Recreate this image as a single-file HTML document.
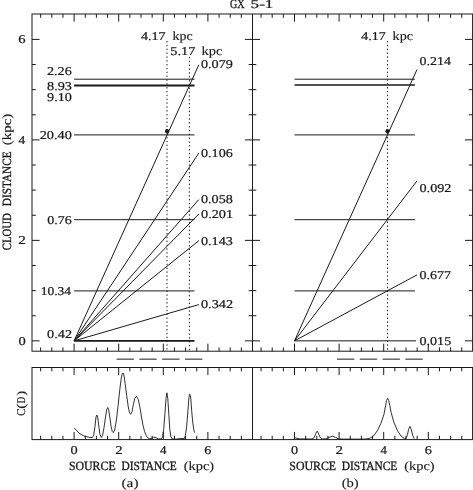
<!DOCTYPE html>
<html lang="en"><head><meta charset="utf-8"><title>GX 5-1</title>
<style>
html,body{margin:0;padding:0;background:#fff;}
body{width:473px;height:490px;overflow:hidden;font-family:"Liberation Serif", "DejaVu Serif", serif;}
svg{display:block;}
text{text-rendering:geometricPrecision;}
</style></head><body>
<svg width="473" height="490" viewBox="0 0 473 490">
<rect x="0" y="0" width="473" height="490" fill="#fff"/>
<g stroke="#1a1a1a" fill="none" stroke-linecap="butt">
<rect x="32.0" y="14.0" width="440.6" height="337.2" stroke-width="1.0"/>
<rect x="32.0" y="367.5" width="440.6" height="72.1" stroke-width="1.0"/>
<line x1="252.50" y1="14.00" x2="252.50" y2="351.25" stroke-width="1.0"/>
<line x1="252.50" y1="367.50" x2="252.50" y2="439.55" stroke-width="1.0"/>
<line x1="40.65" y1="14.00" x2="40.65" y2="17.80" stroke-width="1.0"/>
<line x1="40.65" y1="351.25" x2="40.65" y2="347.45" stroke-width="1.0"/>
<line x1="40.65" y1="367.50" x2="40.65" y2="371.30" stroke-width="1.0"/>
<line x1="40.65" y1="439.55" x2="40.65" y2="435.75" stroke-width="1.0"/>
<line x1="51.80" y1="14.00" x2="51.80" y2="17.80" stroke-width="1.0"/>
<line x1="51.80" y1="351.25" x2="51.80" y2="347.45" stroke-width="1.0"/>
<line x1="51.80" y1="367.50" x2="51.80" y2="371.30" stroke-width="1.0"/>
<line x1="51.80" y1="439.55" x2="51.80" y2="435.75" stroke-width="1.0"/>
<line x1="62.95" y1="14.00" x2="62.95" y2="17.80" stroke-width="1.0"/>
<line x1="62.95" y1="351.25" x2="62.95" y2="347.45" stroke-width="1.0"/>
<line x1="62.95" y1="367.50" x2="62.95" y2="371.30" stroke-width="1.0"/>
<line x1="62.95" y1="439.55" x2="62.95" y2="435.75" stroke-width="1.0"/>
<line x1="74.10" y1="14.00" x2="74.10" y2="21.60" stroke-width="1.0"/>
<line x1="74.10" y1="351.25" x2="74.10" y2="343.65" stroke-width="1.0"/>
<line x1="74.10" y1="367.50" x2="74.10" y2="375.10" stroke-width="1.0"/>
<line x1="74.10" y1="439.55" x2="74.10" y2="431.95" stroke-width="1.0"/>
<line x1="85.25" y1="14.00" x2="85.25" y2="17.80" stroke-width="1.0"/>
<line x1="85.25" y1="351.25" x2="85.25" y2="347.45" stroke-width="1.0"/>
<line x1="85.25" y1="367.50" x2="85.25" y2="371.30" stroke-width="1.0"/>
<line x1="85.25" y1="439.55" x2="85.25" y2="435.75" stroke-width="1.0"/>
<line x1="96.40" y1="14.00" x2="96.40" y2="17.80" stroke-width="1.0"/>
<line x1="96.40" y1="351.25" x2="96.40" y2="347.45" stroke-width="1.0"/>
<line x1="96.40" y1="367.50" x2="96.40" y2="371.30" stroke-width="1.0"/>
<line x1="96.40" y1="439.55" x2="96.40" y2="435.75" stroke-width="1.0"/>
<line x1="107.55" y1="14.00" x2="107.55" y2="17.80" stroke-width="1.0"/>
<line x1="107.55" y1="351.25" x2="107.55" y2="347.45" stroke-width="1.0"/>
<line x1="107.55" y1="367.50" x2="107.55" y2="371.30" stroke-width="1.0"/>
<line x1="107.55" y1="439.55" x2="107.55" y2="435.75" stroke-width="1.0"/>
<line x1="118.70" y1="14.00" x2="118.70" y2="21.60" stroke-width="1.0"/>
<line x1="118.70" y1="351.25" x2="118.70" y2="343.65" stroke-width="1.0"/>
<line x1="118.70" y1="367.50" x2="118.70" y2="375.10" stroke-width="1.0"/>
<line x1="118.70" y1="439.55" x2="118.70" y2="431.95" stroke-width="1.0"/>
<line x1="129.85" y1="14.00" x2="129.85" y2="17.80" stroke-width="1.0"/>
<line x1="129.85" y1="351.25" x2="129.85" y2="347.45" stroke-width="1.0"/>
<line x1="129.85" y1="367.50" x2="129.85" y2="371.30" stroke-width="1.0"/>
<line x1="129.85" y1="439.55" x2="129.85" y2="435.75" stroke-width="1.0"/>
<line x1="141.00" y1="14.00" x2="141.00" y2="17.80" stroke-width="1.0"/>
<line x1="141.00" y1="351.25" x2="141.00" y2="347.45" stroke-width="1.0"/>
<line x1="141.00" y1="367.50" x2="141.00" y2="371.30" stroke-width="1.0"/>
<line x1="141.00" y1="439.55" x2="141.00" y2="435.75" stroke-width="1.0"/>
<line x1="152.15" y1="14.00" x2="152.15" y2="17.80" stroke-width="1.0"/>
<line x1="152.15" y1="351.25" x2="152.15" y2="347.45" stroke-width="1.0"/>
<line x1="152.15" y1="367.50" x2="152.15" y2="371.30" stroke-width="1.0"/>
<line x1="152.15" y1="439.55" x2="152.15" y2="435.75" stroke-width="1.0"/>
<line x1="163.30" y1="14.00" x2="163.30" y2="21.60" stroke-width="1.0"/>
<line x1="163.30" y1="351.25" x2="163.30" y2="343.65" stroke-width="1.0"/>
<line x1="163.30" y1="367.50" x2="163.30" y2="375.10" stroke-width="1.0"/>
<line x1="163.30" y1="439.55" x2="163.30" y2="431.95" stroke-width="1.0"/>
<line x1="174.45" y1="14.00" x2="174.45" y2="17.80" stroke-width="1.0"/>
<line x1="174.45" y1="351.25" x2="174.45" y2="347.45" stroke-width="1.0"/>
<line x1="174.45" y1="367.50" x2="174.45" y2="371.30" stroke-width="1.0"/>
<line x1="174.45" y1="439.55" x2="174.45" y2="435.75" stroke-width="1.0"/>
<line x1="185.60" y1="14.00" x2="185.60" y2="17.80" stroke-width="1.0"/>
<line x1="185.60" y1="351.25" x2="185.60" y2="347.45" stroke-width="1.0"/>
<line x1="185.60" y1="367.50" x2="185.60" y2="371.30" stroke-width="1.0"/>
<line x1="185.60" y1="439.55" x2="185.60" y2="435.75" stroke-width="1.0"/>
<line x1="196.75" y1="14.00" x2="196.75" y2="17.80" stroke-width="1.0"/>
<line x1="196.75" y1="351.25" x2="196.75" y2="347.45" stroke-width="1.0"/>
<line x1="196.75" y1="367.50" x2="196.75" y2="371.30" stroke-width="1.0"/>
<line x1="196.75" y1="439.55" x2="196.75" y2="435.75" stroke-width="1.0"/>
<line x1="207.90" y1="14.00" x2="207.90" y2="21.60" stroke-width="1.0"/>
<line x1="207.90" y1="351.25" x2="207.90" y2="343.65" stroke-width="1.0"/>
<line x1="207.90" y1="367.50" x2="207.90" y2="375.10" stroke-width="1.0"/>
<line x1="207.90" y1="439.55" x2="207.90" y2="431.95" stroke-width="1.0"/>
<line x1="219.05" y1="14.00" x2="219.05" y2="17.80" stroke-width="1.0"/>
<line x1="219.05" y1="351.25" x2="219.05" y2="347.45" stroke-width="1.0"/>
<line x1="219.05" y1="367.50" x2="219.05" y2="371.30" stroke-width="1.0"/>
<line x1="219.05" y1="439.55" x2="219.05" y2="435.75" stroke-width="1.0"/>
<line x1="230.20" y1="14.00" x2="230.20" y2="17.80" stroke-width="1.0"/>
<line x1="230.20" y1="351.25" x2="230.20" y2="347.45" stroke-width="1.0"/>
<line x1="230.20" y1="367.50" x2="230.20" y2="371.30" stroke-width="1.0"/>
<line x1="230.20" y1="439.55" x2="230.20" y2="435.75" stroke-width="1.0"/>
<line x1="241.35" y1="14.00" x2="241.35" y2="17.80" stroke-width="1.0"/>
<line x1="241.35" y1="351.25" x2="241.35" y2="347.45" stroke-width="1.0"/>
<line x1="241.35" y1="367.50" x2="241.35" y2="371.30" stroke-width="1.0"/>
<line x1="241.35" y1="439.55" x2="241.35" y2="435.75" stroke-width="1.0"/>
<line x1="261.05" y1="14.00" x2="261.05" y2="17.80" stroke-width="1.0"/>
<line x1="261.05" y1="351.25" x2="261.05" y2="347.45" stroke-width="1.0"/>
<line x1="261.05" y1="367.50" x2="261.05" y2="371.30" stroke-width="1.0"/>
<line x1="261.05" y1="439.55" x2="261.05" y2="435.75" stroke-width="1.0"/>
<line x1="272.20" y1="14.00" x2="272.20" y2="17.80" stroke-width="1.0"/>
<line x1="272.20" y1="351.25" x2="272.20" y2="347.45" stroke-width="1.0"/>
<line x1="272.20" y1="367.50" x2="272.20" y2="371.30" stroke-width="1.0"/>
<line x1="272.20" y1="439.55" x2="272.20" y2="435.75" stroke-width="1.0"/>
<line x1="283.35" y1="14.00" x2="283.35" y2="17.80" stroke-width="1.0"/>
<line x1="283.35" y1="351.25" x2="283.35" y2="347.45" stroke-width="1.0"/>
<line x1="283.35" y1="367.50" x2="283.35" y2="371.30" stroke-width="1.0"/>
<line x1="283.35" y1="439.55" x2="283.35" y2="435.75" stroke-width="1.0"/>
<line x1="294.50" y1="14.00" x2="294.50" y2="21.60" stroke-width="1.0"/>
<line x1="294.50" y1="351.25" x2="294.50" y2="343.65" stroke-width="1.0"/>
<line x1="294.50" y1="367.50" x2="294.50" y2="375.10" stroke-width="1.0"/>
<line x1="294.50" y1="439.55" x2="294.50" y2="431.95" stroke-width="1.0"/>
<line x1="305.65" y1="14.00" x2="305.65" y2="17.80" stroke-width="1.0"/>
<line x1="305.65" y1="351.25" x2="305.65" y2="347.45" stroke-width="1.0"/>
<line x1="305.65" y1="367.50" x2="305.65" y2="371.30" stroke-width="1.0"/>
<line x1="305.65" y1="439.55" x2="305.65" y2="435.75" stroke-width="1.0"/>
<line x1="316.80" y1="14.00" x2="316.80" y2="17.80" stroke-width="1.0"/>
<line x1="316.80" y1="351.25" x2="316.80" y2="347.45" stroke-width="1.0"/>
<line x1="316.80" y1="367.50" x2="316.80" y2="371.30" stroke-width="1.0"/>
<line x1="316.80" y1="439.55" x2="316.80" y2="435.75" stroke-width="1.0"/>
<line x1="327.95" y1="14.00" x2="327.95" y2="17.80" stroke-width="1.0"/>
<line x1="327.95" y1="351.25" x2="327.95" y2="347.45" stroke-width="1.0"/>
<line x1="327.95" y1="367.50" x2="327.95" y2="371.30" stroke-width="1.0"/>
<line x1="327.95" y1="439.55" x2="327.95" y2="435.75" stroke-width="1.0"/>
<line x1="339.10" y1="14.00" x2="339.10" y2="21.60" stroke-width="1.0"/>
<line x1="339.10" y1="351.25" x2="339.10" y2="343.65" stroke-width="1.0"/>
<line x1="339.10" y1="367.50" x2="339.10" y2="375.10" stroke-width="1.0"/>
<line x1="339.10" y1="439.55" x2="339.10" y2="431.95" stroke-width="1.0"/>
<line x1="350.25" y1="14.00" x2="350.25" y2="17.80" stroke-width="1.0"/>
<line x1="350.25" y1="351.25" x2="350.25" y2="347.45" stroke-width="1.0"/>
<line x1="350.25" y1="367.50" x2="350.25" y2="371.30" stroke-width="1.0"/>
<line x1="350.25" y1="439.55" x2="350.25" y2="435.75" stroke-width="1.0"/>
<line x1="361.40" y1="14.00" x2="361.40" y2="17.80" stroke-width="1.0"/>
<line x1="361.40" y1="351.25" x2="361.40" y2="347.45" stroke-width="1.0"/>
<line x1="361.40" y1="367.50" x2="361.40" y2="371.30" stroke-width="1.0"/>
<line x1="361.40" y1="439.55" x2="361.40" y2="435.75" stroke-width="1.0"/>
<line x1="372.55" y1="14.00" x2="372.55" y2="17.80" stroke-width="1.0"/>
<line x1="372.55" y1="351.25" x2="372.55" y2="347.45" stroke-width="1.0"/>
<line x1="372.55" y1="367.50" x2="372.55" y2="371.30" stroke-width="1.0"/>
<line x1="372.55" y1="439.55" x2="372.55" y2="435.75" stroke-width="1.0"/>
<line x1="383.70" y1="14.00" x2="383.70" y2="21.60" stroke-width="1.0"/>
<line x1="383.70" y1="351.25" x2="383.70" y2="343.65" stroke-width="1.0"/>
<line x1="383.70" y1="367.50" x2="383.70" y2="375.10" stroke-width="1.0"/>
<line x1="383.70" y1="439.55" x2="383.70" y2="431.95" stroke-width="1.0"/>
<line x1="394.85" y1="14.00" x2="394.85" y2="17.80" stroke-width="1.0"/>
<line x1="394.85" y1="351.25" x2="394.85" y2="347.45" stroke-width="1.0"/>
<line x1="394.85" y1="367.50" x2="394.85" y2="371.30" stroke-width="1.0"/>
<line x1="394.85" y1="439.55" x2="394.85" y2="435.75" stroke-width="1.0"/>
<line x1="406.00" y1="14.00" x2="406.00" y2="17.80" stroke-width="1.0"/>
<line x1="406.00" y1="351.25" x2="406.00" y2="347.45" stroke-width="1.0"/>
<line x1="406.00" y1="367.50" x2="406.00" y2="371.30" stroke-width="1.0"/>
<line x1="406.00" y1="439.55" x2="406.00" y2="435.75" stroke-width="1.0"/>
<line x1="417.15" y1="14.00" x2="417.15" y2="17.80" stroke-width="1.0"/>
<line x1="417.15" y1="351.25" x2="417.15" y2="347.45" stroke-width="1.0"/>
<line x1="417.15" y1="367.50" x2="417.15" y2="371.30" stroke-width="1.0"/>
<line x1="417.15" y1="439.55" x2="417.15" y2="435.75" stroke-width="1.0"/>
<line x1="428.30" y1="14.00" x2="428.30" y2="21.60" stroke-width="1.0"/>
<line x1="428.30" y1="351.25" x2="428.30" y2="343.65" stroke-width="1.0"/>
<line x1="428.30" y1="367.50" x2="428.30" y2="375.10" stroke-width="1.0"/>
<line x1="428.30" y1="439.55" x2="428.30" y2="431.95" stroke-width="1.0"/>
<line x1="439.45" y1="14.00" x2="439.45" y2="17.80" stroke-width="1.0"/>
<line x1="439.45" y1="351.25" x2="439.45" y2="347.45" stroke-width="1.0"/>
<line x1="439.45" y1="367.50" x2="439.45" y2="371.30" stroke-width="1.0"/>
<line x1="439.45" y1="439.55" x2="439.45" y2="435.75" stroke-width="1.0"/>
<line x1="450.60" y1="14.00" x2="450.60" y2="17.80" stroke-width="1.0"/>
<line x1="450.60" y1="351.25" x2="450.60" y2="347.45" stroke-width="1.0"/>
<line x1="450.60" y1="367.50" x2="450.60" y2="371.30" stroke-width="1.0"/>
<line x1="450.60" y1="439.55" x2="450.60" y2="435.75" stroke-width="1.0"/>
<line x1="461.75" y1="14.00" x2="461.75" y2="17.80" stroke-width="1.0"/>
<line x1="461.75" y1="351.25" x2="461.75" y2="347.45" stroke-width="1.0"/>
<line x1="461.75" y1="367.50" x2="461.75" y2="371.30" stroke-width="1.0"/>
<line x1="461.75" y1="439.55" x2="461.75" y2="435.75" stroke-width="1.0"/>
<line x1="32.00" y1="340.85" x2="39.60" y2="340.85" stroke-width="1.0"/>
<line x1="244.90" y1="340.85" x2="260.10" y2="340.85" stroke-width="1.0"/>
<line x1="465.00" y1="340.85" x2="472.60" y2="340.85" stroke-width="1.0"/>
<line x1="32.00" y1="315.73" x2="35.80" y2="315.73" stroke-width="1.0"/>
<line x1="248.70" y1="315.73" x2="256.30" y2="315.73" stroke-width="1.0"/>
<line x1="468.80" y1="315.73" x2="472.60" y2="315.73" stroke-width="1.0"/>
<line x1="32.00" y1="290.61" x2="35.80" y2="290.61" stroke-width="1.0"/>
<line x1="248.70" y1="290.61" x2="256.30" y2="290.61" stroke-width="1.0"/>
<line x1="468.80" y1="290.61" x2="472.60" y2="290.61" stroke-width="1.0"/>
<line x1="32.00" y1="265.49" x2="35.80" y2="265.49" stroke-width="1.0"/>
<line x1="248.70" y1="265.49" x2="256.30" y2="265.49" stroke-width="1.0"/>
<line x1="468.80" y1="265.49" x2="472.60" y2="265.49" stroke-width="1.0"/>
<line x1="32.00" y1="240.37" x2="39.60" y2="240.37" stroke-width="1.0"/>
<line x1="244.90" y1="240.37" x2="260.10" y2="240.37" stroke-width="1.0"/>
<line x1="465.00" y1="240.37" x2="472.60" y2="240.37" stroke-width="1.0"/>
<line x1="32.00" y1="215.25" x2="35.80" y2="215.25" stroke-width="1.0"/>
<line x1="248.70" y1="215.25" x2="256.30" y2="215.25" stroke-width="1.0"/>
<line x1="468.80" y1="215.25" x2="472.60" y2="215.25" stroke-width="1.0"/>
<line x1="32.00" y1="190.13" x2="35.80" y2="190.13" stroke-width="1.0"/>
<line x1="248.70" y1="190.13" x2="256.30" y2="190.13" stroke-width="1.0"/>
<line x1="468.80" y1="190.13" x2="472.60" y2="190.13" stroke-width="1.0"/>
<line x1="32.00" y1="165.01" x2="35.80" y2="165.01" stroke-width="1.0"/>
<line x1="248.70" y1="165.01" x2="256.30" y2="165.01" stroke-width="1.0"/>
<line x1="468.80" y1="165.01" x2="472.60" y2="165.01" stroke-width="1.0"/>
<line x1="32.00" y1="139.89" x2="39.60" y2="139.89" stroke-width="1.0"/>
<line x1="244.90" y1="139.89" x2="260.10" y2="139.89" stroke-width="1.0"/>
<line x1="465.00" y1="139.89" x2="472.60" y2="139.89" stroke-width="1.0"/>
<line x1="32.00" y1="114.77" x2="35.80" y2="114.77" stroke-width="1.0"/>
<line x1="248.70" y1="114.77" x2="256.30" y2="114.77" stroke-width="1.0"/>
<line x1="468.80" y1="114.77" x2="472.60" y2="114.77" stroke-width="1.0"/>
<line x1="32.00" y1="89.65" x2="35.80" y2="89.65" stroke-width="1.0"/>
<line x1="248.70" y1="89.65" x2="256.30" y2="89.65" stroke-width="1.0"/>
<line x1="468.80" y1="89.65" x2="472.60" y2="89.65" stroke-width="1.0"/>
<line x1="32.00" y1="64.53" x2="35.80" y2="64.53" stroke-width="1.0"/>
<line x1="248.70" y1="64.53" x2="256.30" y2="64.53" stroke-width="1.0"/>
<line x1="468.80" y1="64.53" x2="472.60" y2="64.53" stroke-width="1.0"/>
<line x1="32.00" y1="39.41" x2="39.60" y2="39.41" stroke-width="1.0"/>
<line x1="244.90" y1="39.41" x2="260.10" y2="39.41" stroke-width="1.0"/>
<line x1="465.00" y1="39.41" x2="472.60" y2="39.41" stroke-width="1.0"/>
<line x1="74.10" y1="79.20" x2="194.52" y2="79.20" stroke-width="1.0"/>
<line x1="74.10" y1="134.90" x2="194.52" y2="134.90" stroke-width="1.0"/>
<line x1="74.10" y1="219.70" x2="194.52" y2="219.70" stroke-width="1.0"/>
<line x1="74.10" y1="290.90" x2="194.52" y2="290.90" stroke-width="1.0"/>
<line x1="294.50" y1="79.20" x2="414.92" y2="79.20" stroke-width="1.0"/>
<line x1="294.50" y1="134.90" x2="414.92" y2="134.90" stroke-width="1.0"/>
<line x1="294.50" y1="219.70" x2="414.92" y2="219.70" stroke-width="1.0"/>
<line x1="294.50" y1="290.90" x2="414.92" y2="290.90" stroke-width="1.0"/>
<line x1="74.10" y1="85.40" x2="194.52" y2="85.40" stroke-width="2.0"/>
<line x1="294.50" y1="84.95" x2="414.92" y2="84.95" stroke-width="1.35"/>
<line x1="74.10" y1="340.85" x2="194.52" y2="340.85" stroke-width="1.8"/>
<line x1="294.50" y1="340.85" x2="416.04" y2="340.85" stroke-width="1.0"/>
<line x1="74.10" y1="340.85" x2="198.80" y2="64.80" stroke-width="1.0"/>
<line x1="74.10" y1="340.85" x2="198.80" y2="153.10" stroke-width="1.0"/>
<line x1="74.10" y1="340.85" x2="198.80" y2="199.60" stroke-width="1.0"/>
<line x1="74.10" y1="340.85" x2="198.80" y2="214.00" stroke-width="1.0"/>
<line x1="74.10" y1="340.85" x2="198.80" y2="240.70" stroke-width="1.0"/>
<line x1="74.10" y1="340.85" x2="198.80" y2="304.60" stroke-width="1.0"/>
<line x1="294.50" y1="340.85" x2="417.00" y2="69.50" stroke-width="1.0"/>
<line x1="294.50" y1="340.85" x2="417.00" y2="180.90" stroke-width="1.0"/>
<line x1="294.50" y1="340.85" x2="417.00" y2="274.90" stroke-width="1.0"/>
<line x1="167.00" y1="41.00" x2="167.00" y2="351.25" stroke-width="1.0" stroke-dasharray="1.4 2.44"/>
<line x1="189.40" y1="56.90" x2="189.40" y2="351.25" stroke-width="1.0" stroke-dasharray="1.4 2.44"/>
<line x1="387.50" y1="41.00" x2="387.50" y2="351.25" stroke-width="1.0" stroke-dasharray="1.4 2.44"/>
<line x1="116.60" y1="359.15" x2="133.90" y2="359.15" stroke-width="1.0"/>
<line x1="139.40" y1="359.15" x2="156.70" y2="359.15" stroke-width="1.0"/>
<line x1="162.20" y1="359.15" x2="179.50" y2="359.15" stroke-width="1.0"/>
<line x1="185.00" y1="359.15" x2="202.30" y2="359.15" stroke-width="1.0"/>
<line x1="337.00" y1="359.15" x2="354.30" y2="359.15" stroke-width="1.0"/>
<line x1="359.80" y1="359.15" x2="377.10" y2="359.15" stroke-width="1.0"/>
<line x1="382.60" y1="359.15" x2="399.90" y2="359.15" stroke-width="1.0"/>
<line x1="405.40" y1="359.15" x2="422.70" y2="359.15" stroke-width="1.0"/>
<path d="M74.3,428.0 L76.9,430.8 L80.0,433.9 L83.8,435.9 L88.4,437.2 L92.2,437.7 L93.7,435.4 L95.0,426.2 L96.0,417.0 L96.8,415.0 L97.7,417.0 L98.8,426.2 L100.0,434.6 L101.4,437.4 L102.6,435.4 L104.0,427.7 L105.5,417.0 L106.8,409.4 L107.7,407.5 L108.6,409.4 L109.8,417.0 L111.0,426.2 L112.3,431.6 L113.3,432.6 L114.7,430.0 L116.4,420.0 L118.2,404.8 L119.8,389.4 L121.3,378.0 L122.2,374.1 L123.0,373.0 L123.9,374.9 L125.1,383.3 L126.7,395.6 L128.2,406.3 L129.4,412.4 L130.7,414.3 L132.0,411.7 L133.3,404.8 L134.7,398.6 L136.4,396.3 L138.3,399.4 L140.0,407.8 L141.5,417.0 L143.0,425.4 L144.6,431.6 L146.1,435.4 L147.6,437.7 L149.9,438.9 L152.2,438.1 L153.7,437.2 L156.0,437.7 L158.3,438.9 L161.4,438.9 L162.6,436.9 L163.7,429.3 L164.9,413.9 L166.0,398.6 L166.9,392.8 L167.8,398.6 L168.8,413.9 L169.8,429.3 L170.9,436.9 L172.1,438.9 L175.9,439.2 L180.5,438.5 L184.4,438.5 L185.4,435.4 L186.7,426.2 L187.9,410.9 L189.0,397.1 L189.7,394.3 L190.7,397.1 L191.7,410.9 L192.8,423.1 L194.0,430.8 L194.5,432.6" stroke-width="0.9" stroke-linejoin="round"/>
<path d="M294.5,437.6 L297.0,438.4 L300.0,438.9 L312.0,439.0 L314.0,437.8 L315.5,434.5 L316.5,432.0 L317.2,431.2 L317.9,432.0 L318.9,434.5 L320.4,437.8 L322.4,439.0 L326.0,438.8 L329.0,437.4 L332.4,436.2 L335.5,437.4 L338.5,438.8 L342.0,439.1 L362.0,439.1 L366.1,439.0 L369.8,438.3 L373.5,436.0 L377.2,430.9 L380.9,423.5 L383.9,414.6 L385.6,405.7 L386.5,400.5 L387.6,398.3 L388.7,400.5 L389.8,405.7 L391.3,413.1 L393.8,422.0 L397.2,430.1 L400.9,436.0 L404.6,438.7 L406.0,438.3 L407.5,434.6 L408.6,429.4 L409.9,426.4 L411.2,429.4 L412.7,435.3 L414.2,438.6" stroke-width="0.9" stroke-linejoin="round"/>
</g>
<circle cx="167.1" cy="131.2" r="2.1" fill="#1a1a1a"/>
<circle cx="387.5" cy="131.2" r="2.1" fill="#1a1a1a"/>
<g fill="#1a1a1a" stroke="#1a1a1a" stroke-width="0.22" font-family='"Liberation Serif", "DejaVu Serif", serif' font-size="12.0" id="txt">
<text id="t_gx" x="230.09" y="8.4" textLength="14.44" lengthAdjust="spacingAndGlyphs" font-size="12.6" stroke-width="0.34">GX</text>
<text id="t_51" x="250.58" y="8.4" textLength="22.80" lengthAdjust="spacingAndGlyphs">5-1</text>
<text id="a417n" x="140.93" y="39.6" textLength="24.78" lengthAdjust="spacingAndGlyphs">4.17</text>
<text id="a417k" x="172.63" y="39.6" textLength="20.05" lengthAdjust="spacingAndGlyphs" font-size="12.6" stroke-width="0.12">kpc</text>
<text id="a517n" x="170.22" y="54.5" textLength="25.11" lengthAdjust="spacingAndGlyphs">5.17</text>
<text id="a517k" x="201.55" y="54.5" textLength="20.91" lengthAdjust="spacingAndGlyphs" font-size="12.6" stroke-width="0.12">kpc</text>
<text id="b417n" x="361.28" y="39.8" textLength="24.40" lengthAdjust="spacingAndGlyphs">4.17</text>
<text id="b417k" x="392.59" y="39.8" textLength="20.37" lengthAdjust="spacingAndGlyphs" font-size="12.6" stroke-width="0.12">kpc</text>
<text id="la0" x="200.99" y="68.3" textLength="31.91" lengthAdjust="spacingAndGlyphs">0.079</text>
<text id="la1" x="201.05" y="157.0" textLength="31.68" lengthAdjust="spacingAndGlyphs">0.106</text>
<text id="la2" x="200.99" y="203.2" textLength="31.83" lengthAdjust="spacingAndGlyphs">0.058</text>
<text id="la3" x="201.02" y="217.9" textLength="32.07" lengthAdjust="spacingAndGlyphs">0.201</text>
<text id="la4" x="201.03" y="244.6" textLength="31.81" lengthAdjust="spacingAndGlyphs">0.143</text>
<text id="la5" x="200.94" y="308.3" textLength="32.11" lengthAdjust="spacingAndGlyphs">0.342</text>
<text id="lb0" x="419.55" y="65.3" textLength="31.29" lengthAdjust="spacingAndGlyphs">0.214</text>
<text id="lb1" x="419.53" y="192.3" textLength="31.89" lengthAdjust="spacingAndGlyphs">0.092</text>
<text id="lb2" x="419.53" y="278.8" textLength="31.59" lengthAdjust="spacingAndGlyphs">0.677</text>
<text id="lb3" x="419.50" y="344.8" textLength="31.69" lengthAdjust="spacingAndGlyphs">0.015</text>
<text id="ll0" x="47.02" y="75.3" textLength="24.72" lengthAdjust="spacingAndGlyphs">2.26</text>
<text id="ll1" x="47.05" y="89.6" textLength="24.84" lengthAdjust="spacingAndGlyphs">8.93</text>
<text id="ll2" x="47.14" y="101.4" textLength="24.73" lengthAdjust="spacingAndGlyphs">9.10</text>
<text id="ll3" x="47.15" y="223.5" textLength="24.54" lengthAdjust="spacingAndGlyphs">0.76</text>
<text id="ll4" x="47.11" y="337.6" textLength="24.92" lengthAdjust="spacingAndGlyphs">0.42</text>
<text id="ll5" x="39.66" y="138.7" textLength="32.11" lengthAdjust="spacingAndGlyphs">20.40</text>
<text id="ll6" x="40.69" y="294.8" textLength="30.36" lengthAdjust="spacingAndGlyphs">10.34</text>
<text id="ya0" x="18.28" y="43.2" textLength="7.30" lengthAdjust="spacingAndGlyphs">6</text>
<text id="ya1" x="18.63" y="143.7" textLength="6.69" lengthAdjust="spacingAndGlyphs">4</text>
<text id="ya2" x="18.29" y="244.2" textLength="7.62" lengthAdjust="spacingAndGlyphs">2</text>
<text id="ya3" x="18.41" y="345.2" textLength="7.24" lengthAdjust="spacingAndGlyphs">0</text>
<text id="xa00" x="70.55" y="454.1" textLength="7.16" lengthAdjust="spacingAndGlyphs">0</text>
<text id="xa02" x="115.17" y="454.1" textLength="7.36" lengthAdjust="spacingAndGlyphs">2</text>
<text id="xa04" x="160.10" y="454.1" textLength="6.47" lengthAdjust="spacingAndGlyphs">4</text>
<text id="xa06" x="204.30" y="454.1" textLength="7.03" lengthAdjust="spacingAndGlyphs">6</text>
<text id="xa10" x="290.94" y="454.1" textLength="7.10" lengthAdjust="spacingAndGlyphs">0</text>
<text id="xa12" x="335.48" y="454.1" textLength="7.49" lengthAdjust="spacingAndGlyphs">2</text>
<text id="xa14" x="380.49" y="454.1" textLength="6.42" lengthAdjust="spacingAndGlyphs">4</text>
<text id="xa16" x="424.72" y="454.1" textLength="7.06" lengthAdjust="spacingAndGlyphs">6</text>
<text id="src0" x="68.98" y="469.8" textLength="46.64" lengthAdjust="spacingAndGlyphs" font-size="12.6" stroke-width="0.34">SOURCE</text>
<text id="dst0" x="121.45" y="469.8" textLength="55.36" lengthAdjust="spacingAndGlyphs" font-size="12.6" stroke-width="0.34">DISTANCE</text>
<text id="kpc0" x="183.77" y="469.8" textLength="30.39" lengthAdjust="spacingAndGlyphs" font-size="12.6" stroke-width="0.12">(kpc)</text>
<text id="src1" x="289.32" y="469.8" textLength="46.78" lengthAdjust="spacingAndGlyphs" font-size="12.6" stroke-width="0.34">SOURCE</text>
<text id="dst1" x="341.82" y="469.8" textLength="55.40" lengthAdjust="spacingAndGlyphs" font-size="12.6" stroke-width="0.34">DISTANCE</text>
<text id="kpc1" x="404.27" y="469.8" textLength="30.31" lengthAdjust="spacingAndGlyphs" font-size="12.6" stroke-width="0.12">(kpc)</text>
<text id="pa" x="121.53" y="487.2" textLength="17.02" lengthAdjust="spacingAndGlyphs" font-size="12.6" stroke-width="0.12">(a)</text>
<text id="pb" x="341.68" y="487.2" textLength="17.07" lengthAdjust="spacingAndGlyphs" font-size="12.6" stroke-width="0.12">(b)</text>
<text id="yl_c" x="10.9" y="250.31" textLength="37.24" lengthAdjust="spacingAndGlyphs" font-size="12.6" stroke-width="0.34" transform="rotate(-90 10.9 250.31)">CLOUD</text>
<text id="yl_d" x="10.9" y="206.12" textLength="54.68" lengthAdjust="spacingAndGlyphs" font-size="12.6" stroke-width="0.34" transform="rotate(-90 10.9 206.12)">DISTANCE</text>
<text id="yl_k" x="10.9" y="145.19" textLength="31.45" lengthAdjust="spacingAndGlyphs" font-size="12.6" stroke-width="0.12" transform="rotate(-90 10.9 145.19)">(kpc)</text>
<text id="cd_c" x="25.2" y="416.11" textLength="7.67" lengthAdjust="spacingAndGlyphs" stroke-width="0.15" transform="rotate(-90 25.2 416.11)">C</text>
<text id="cd_l" x="25.2" y="408.64" textLength="5.12" lengthAdjust="spacingAndGlyphs" stroke-width="0.15" transform="rotate(-90 25.2 408.64)">(</text>
<text id="cd_d" x="25.2" y="403.47" textLength="6.72" lengthAdjust="spacingAndGlyphs" stroke-width="0.15" transform="rotate(-90 25.2 403.47)">D</text>
<text id="cd_r" x="25.2" y="395.65" textLength="4.93" lengthAdjust="spacingAndGlyphs" stroke-width="0.15" transform="rotate(-90 25.2 395.65)">)</text>
</g>
</svg>
</body></html>
